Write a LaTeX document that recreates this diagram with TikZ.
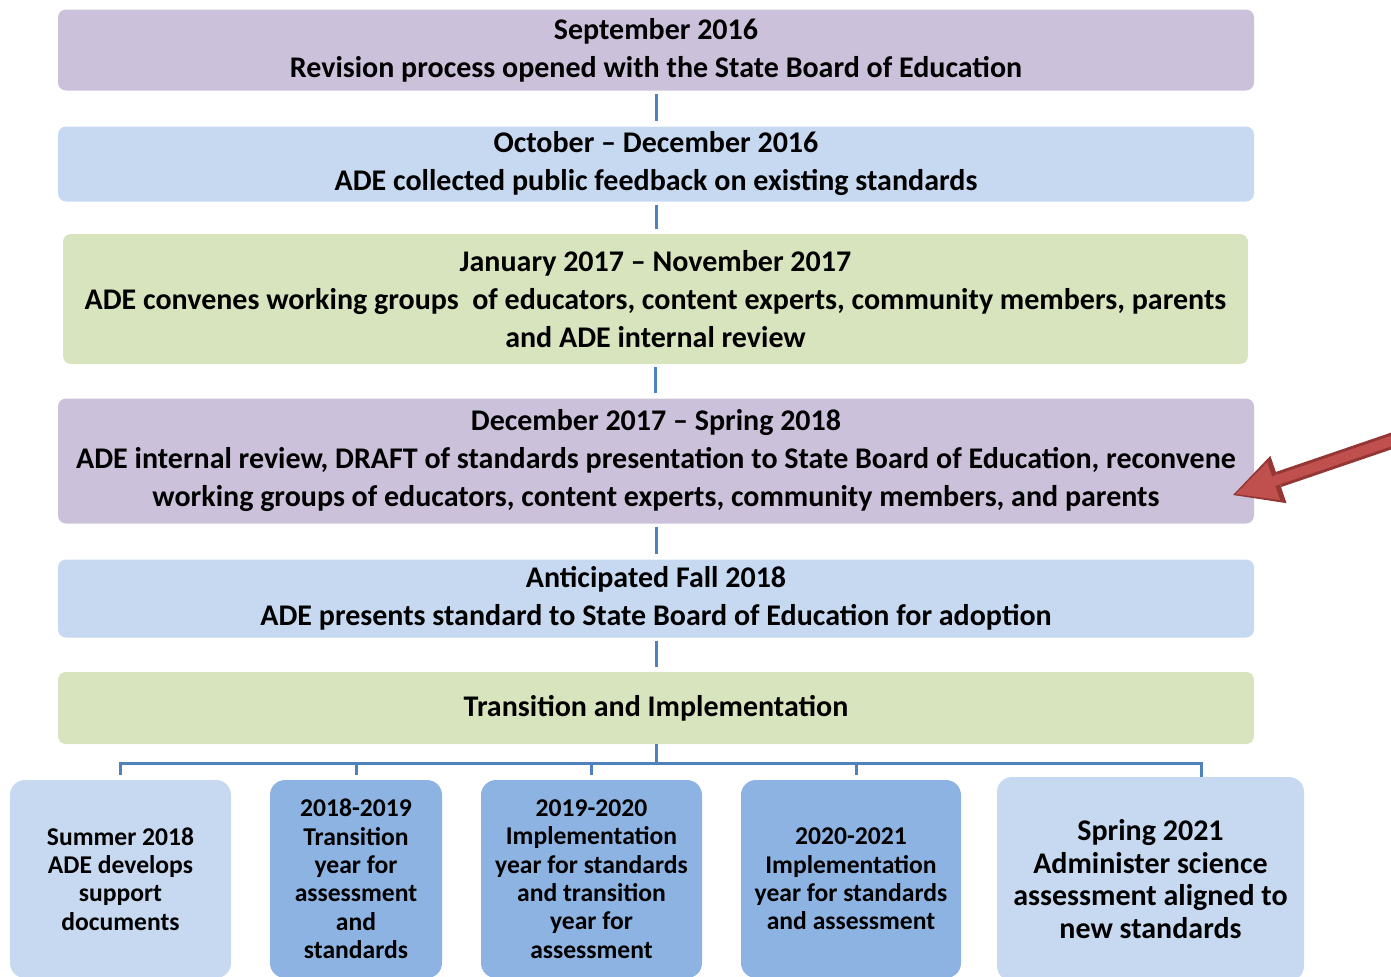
\documentclass[tikz,border=0pt]{standalone}
\usepackage{fontspec}
\setmainfont{Carlito}
\usetikzlibrary{arrows.meta}

\definecolor{lavender}{RGB}{204,193,218}
\definecolor{paleblue}{RGB}{198,217,241}
\definecolor{palegreen}{RGB}{215,228,189}
\definecolor{midblue}{RGB}{141,179,226}
\definecolor{linkblue}{RGB}{79,129,189}
\definecolor{arrowred}{RGB}{192,80,77}
\definecolor{arrowdark}{RGB}{148,54,52}

\begin{document}
\begin{tikzpicture}[x=0.5pt, y=-0.5pt,
  stage/.style={rounded corners=4pt, inner sep=0pt, align=center,
    font=\fontsize{15}{19}\selectfont\bfseries, minimum width=598pt},
  yearbox/.style={rounded corners=7.5pt, inner sep=0pt, align=center,
    font=\fontsize{12.8}{14.2}\selectfont\bfseries, minimum height=99pt},
  link/.style={draw=linkblue, line width=1.5pt}]
\useasboundingbox (0,0) rectangle (1391,976);
\clip (0,0) rectangle (1391,976);

% timeline stages
\node[stage, fill=lavender, minimum height=40.5pt] (sep) at (656,50)
  {September 2016\\Revision process opened with the State Board of Education};
\node[stage, fill=paleblue, minimum height=37.5pt] (oct) at (656,164)
  {October -- December 2016\\ADE collected public feedback on existing standards};
\node[stage, fill=palegreen, minimum width=592.5pt, minimum height=65pt] (jan) at (655.5,299)
  {January 2017 -- November 2017\\ADE convenes working groups~ of educators, content experts, community members, parents\\and ADE internal review};
\node[stage, fill=lavender, minimum height=62.5pt] (dec) at (656,461)
  {December 2017 -- Spring 2018\\ADE internal review, DRAFT of standards presentation to State Board of Education, reconvene\\working groups of educators, content experts, community members, and parents};
\node[stage, fill=paleblue, minimum height=39pt] (fall) at (656,598.5)
  {Anticipated Fall 2018\\ADE presents standard to State Board of Education for adoption};
\node[stage, fill=palegreen, minimum height=36pt] (trans) at (656,708)
  {Transition and Implementation};

% yearly boxes
\node[yearbox, fill=paleblue, minimum width=110.5pt] (summer) at (120.5,879)
  {Summer 2018\\ADE develops\\support\\documents};
\node[yearbox, fill=midblue, minimum width=86pt] (yr1819) at (356,879)
  {2018-2019\\Transition\\year for\\assessment\\and\\standards};
\node[yearbox, fill=midblue, minimum width=110.5pt] (yr1920) at (591.5,879)
  {2019-2020\\Implementation\\year for standards\\and transition\\year for\\assessment};
\node[yearbox, fill=midblue, minimum width=110pt] (yr2021) at (851,879)
  {2020-2021\\Implementation\\year for standards\\and assessment};
\node[yearbox, fill=paleblue, minimum width=153.5pt, minimum height=102pt,
  font=\fontsize{15}{16.3}\selectfont\bfseries] (spring) at (1150.5,879)
  {Spring 2021\\Administer science\\assessment aligned to\\new standards};

% connectors
\foreach \a/\b in {sep/oct, oct/jan, jan/dec, dec/fall, fall/trans}
  \draw[link, shorten <=1.5pt, shorten >=2.5pt] (\a.south) -- (\a.south |- \b.north);

\coordinate (bar) at (656,763);
\coordinate (barend) at (1201,763);
\draw[link] (trans.south) -- (bar);
\draw[link] ([yshift=2.5pt]summer.north) -- (summer.north |- bar) -- (barend) -- (barend |- spring.north);
\foreach \b in {yr1819, yr1920}
  \draw[link] ([yshift=2.5pt]\b.north) -- (\b.north |- bar);
\draw[link] ([xshift=2.5pt, yshift=2.5pt]yr2021.north) -- ([xshift=2.5pt]yr2021.north |- bar);

% pointer
\coordinate (arrowtail) at (1400,438);
\coordinate (arrowtip) at (1233,495);
\draw[line width=8pt, arrowdark, -{Triangle[length=24pt, width=25pt, line width=0pt]}] (arrowtail) -- (arrowtip);
\draw[line width=5pt, arrowred, shorten >=1.5pt, -{Triangle[length=20pt, width=20pt, line width=0pt]}] (arrowtail) -- (arrowtip);
\end{tikzpicture}
\end{document}
